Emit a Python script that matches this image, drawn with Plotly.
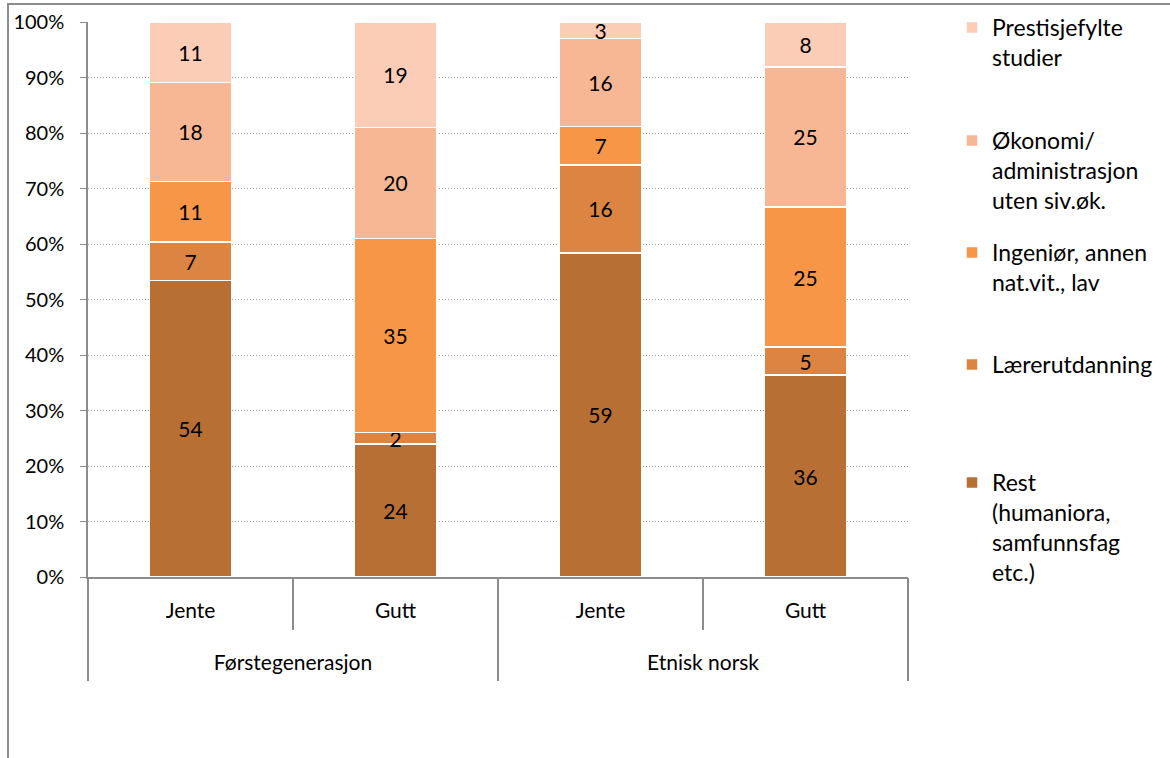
import plotly.graph_objects as go

group_names = ["Førstegenerasjon", "Etnisk norsk"]
groups = ["Førstegenerasjon", "Førstegenerasjon", "Etnisk norsk", "Etnisk norsk"]
genders = ["Jente", "Gutt", "Jente", "Gutt"]

series_names = [
    "Rest<br>(humaniora,<br>samfunnsfag<br>etc.)",
    "Lærerutdanning",
    "Ingeniør, annen<br>nat.vit., lav",
    "Økonomi/<br>administrasjon<br>uten siv.øk.",
    "Prestisjefylte<br>studier",
]
rest = [54, 24, 59, 36]
laerer = [7, 2, 16, 5]
ingenior = [11, 35, 7, 25]
okonomi = [18, 20, 16, 25]
prestisje = [11, 19, 3, 8]
series_values = [rest, laerer, ingenior, okonomi, prestisje]
colors = ["#B86F34", "#DC8542", "#F79646", "#F8B794", "#FBCDB6"]
yticks = [0, 10, 20, 30, 40, 50, 60, 70, 80, 90, 100]

FONT = "Lato"
W, H = 1170, 758
L, R, T, B = 88, 908, 22, 577

def px2x(p):
    return (p - L) / (R - L)

def px2y(p):
    return (B - p) / (B - T)

xpos = list(range(len(genders)))
boundaries = [i - 0.5 for i in range(len(genders) + 1)]
group_centers = [0.5, 2.5]
group_bounds = [-0.5, 1.5, 3.5]

fig = go.Figure()
legend_tops = [461, 343, 231, 119, 6]
legend_keys = ["legend6", "legend5", "legend4", "legend3", "legend2"]
for name, vals, col, lk in zip(series_names, series_values, colors, legend_keys):
    fig.add_trace(go.Bar(
        x=xpos, y=vals, name=name,
        marker=dict(color=col, line=dict(color="white", width=1.5)),
        text=vals, texttemplate="%{text}", textposition="inside",
        insidetextanchor="middle", textangle=0,
        textfont=dict(family=FONT, size=21, color="black"),
        legend=lk,
    ))
# invisible trace to carry the group axis
fig.add_trace(go.Scatter(x=group_centers, y=[None, None], xaxis="x2",
                         showlegend=False, hoverinfo="skip"))

layout_legends = {}
for lk, top in zip(legend_keys, legend_tops):
    layout_legends[lk] = dict(
        xref="container", yref="container",
        x=952 / W, xanchor="left", y=1 - top / H, yanchor="top",
        bgcolor="rgba(0,0,0,0)", font=dict(family=FONT, size=23, color="black"),
        valign="top", itemwidth=30, tracegroupgap=0,
    )

fig.update_layout(
    width=W, height=H,
    margin=dict(l=L, r=W - R, t=T, b=H - B, autoexpand=False),
    barmode="stack", barnorm="percent", bargap=0.6,
    plot_bgcolor="white", paper_bgcolor="white",
    font=dict(family=FONT, size=20, color="black"),
    uniformtext=dict(minsize=21, mode="show"),
    **layout_legends,
)
fig.update_yaxes(
    range=[0, 100], tickvals=yticks, ticktext=[f"{v}%" for v in yticks],
    showgrid=True, gridcolor="#9A9A9A", griddash="1px,2px", gridwidth=1,
    showline=True, linecolor="#8C8C8C", linewidth=1.5,
    ticks="outside", ticklen=6, tickcolor="#8C8C8C", ticklabelstandoff=12,
    tickfont=dict(family=FONT, size=20, color="black"),
    zeroline=False, fixedrange=True, automargin=False,
)
fig.update_layout(
    xaxis=dict(
        range=[-0.5, 3.5], tickvals=xpos, ticktext=genders,
        showline=True, linecolor="#8C8C8C", linewidth=1.5,
        ticks="", ticklabelstandoff=14,
        minor=dict(tickvals=boundaries, ticks="outside", ticklen=51,
                   tickcolor="#8C8C8C", tickwidth=1.5, showgrid=False),
        tickfont=dict(family=FONT, size=21, color="black"),
        showgrid=False, zeroline=False, automargin=False, fixedrange=True,
    ),
    xaxis2=dict(
        overlaying="x", side="bottom", range=[-0.5, 3.5],
        tickvals=group_centers, ticktext=group_names,
        ticks="", ticklabelstandoff=71, showline=False,
        minor=dict(tickvals=group_bounds, ticks="outside", ticklen=103,
                   tickcolor="#8C8C8C", tickwidth=1.5, showgrid=False),
        tickfont=dict(family=FONT, size=21, color="black"),
        showgrid=False, zeroline=False, automargin=False, fixedrange=True,
    ),
)
# outer chart frame
fig.add_shape(type="rect", xref="paper", yref="paper",
              x0=px2x(8), x1=px2x(1175), y0=px2y(765), y1=px2y(4),
              line=dict(color="#8C8C8C", width=2), layer="below")

fig.write_html("out.html", config={"displayModeBar": False},
               post_script="document.body.style.margin='0px';")
